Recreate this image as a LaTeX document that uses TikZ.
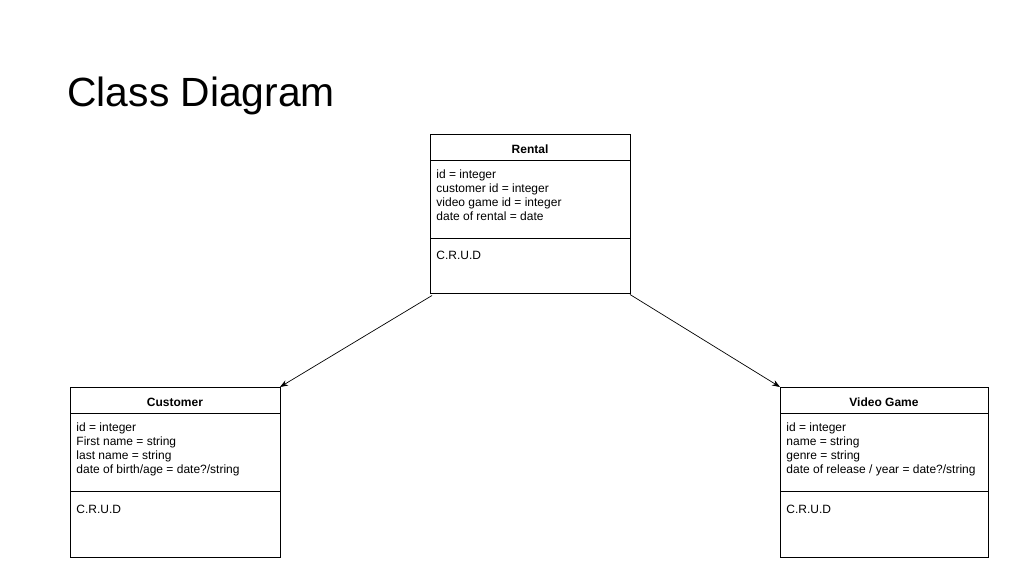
\documentclass[tikz,border=0pt]{standalone}
\usepackage{fontspec}
\setmainfont{Liberation Sans}
\usetikzlibrary{calc,arrows.meta}
\begin{document}
\begin{tikzpicture}[x=1pt,y=-1pt,line width=0.9pt,
  classbox/.style={draw,rectangle,inner sep=0pt,outer sep=0pt},
  classname/.style={anchor=base,inner sep=0pt,font=\fontsize{12}{14}\selectfont\bfseries},
  members/.style={anchor=north west,inner sep=0pt,align=left,font=\fontsize{12}{14}\selectfont},
  assoc/.style={-{Stealth[length=8pt,width=6pt]},line width=0.7pt}]
\useasboundingbox (0,0) rectangle (1011,581);

% title
\node[anchor=base west,inner sep=0pt,font=\fontsize{40.8}{48}\selectfont] (title) at (67,106) {Class Diagram};

% class boxes
\node[classbox,minimum width=200pt,minimum height=159pt] (rental) at (530,214) {};
\node[classbox,minimum width=210pt,minimum height=170pt] (customer) at (175,472) {};
\node[classbox,minimum width=208pt,minimum height=170pt] (game) at (884,472) {};

% compartment dividers
\foreach \c in {rental,customer,game}{
  \draw ($(\c.north west)+(0,26)$) -- ($(\c.north east)+(0,26)$);
  \draw ($(\c.north west)+(0,104)$) -- ($(\c.north east)+(0,104)$);
}

% Rental
\node[classname] (rentalname) at ($(rental.north)+(0,19)$) {Rental};
\node[members] (rentalattr) at ($(rental.north west)+(6,35)$) {id = integer\\customer id = integer\\video game id = integer\\date of rental = date};
\node[members] (rentalops) at ($(rental.north west)+(6,116)$) {C.R.U.D};

% Customer
\node[classname] (customername) at ($(customer.north)+(0,19)$) {Customer};
\node[members] (customerattr) at ($(customer.north west)+(6,35)$) {id = integer\\First name = string\\last name = string\\date of birth/age = date?/string};
\node[members] (customerops) at ($(customer.north west)+(6,118)$) {C.R.U.D};

% Video Game
\node[classname] (gamename) at ($(game.north)+(0,19)$) {Video Game};
\node[members] (gameattr) at ($(game.north west)+(6,35)$) {id = integer\\name = string\\genre = string\\date of release / year = date?/string};
\node[members] (gameops) at ($(game.north west)+(6,118)$) {C.R.U.D};

% associations
\draw[assoc] ($(rental.south west)+(2,2)$) -- (customer.north east);
\draw[assoc] ($(rental.south east)+(0,1)$) -- (game.north west);
\end{tikzpicture}
\end{document}
